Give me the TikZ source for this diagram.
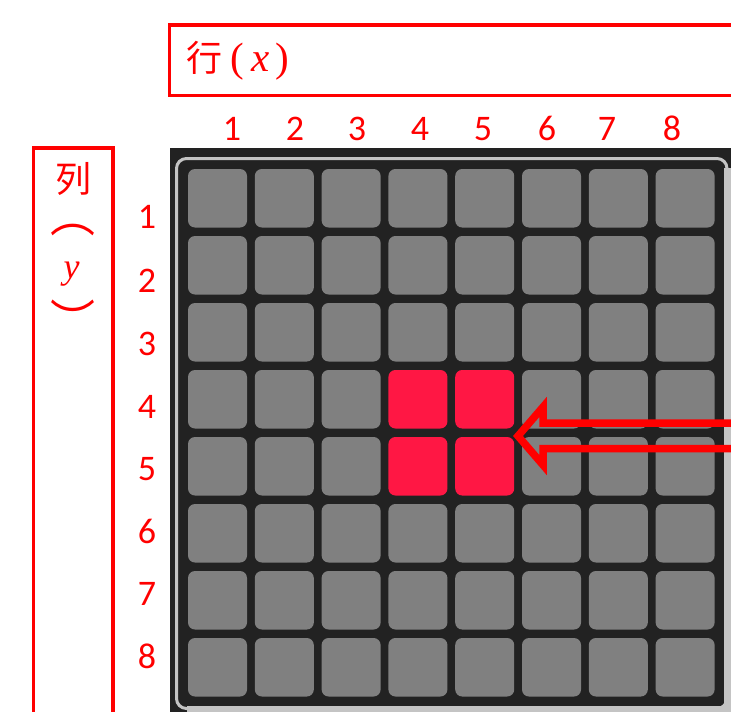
\documentclass[tikz,border=0pt]{standalone}
\usepackage{fontspec}
\setmainfont{Carlito}
\newfontfamily\cjk{Noto Sans CJK SC}
\newfontfamily\tim{Liberation Serif}
\usetikzlibrary{calc}
\definecolor{panel}{HTML}{222222}
\definecolor{cellgray}{HTML}{808080}
\definecolor{cellred}{HTML}{FF1744}
\definecolor{bevel}{HTML}{C4C4C4}
\definecolor{lab}{HTML}{FF0000}
\tikzset{
  cell/.style={rectangle, rounded corners=7pt, minimum width=59pt, minimum height=58.5pt, inner sep=0pt, draw=none},
  numlab/.style={text=lab, font=\fontsize{36}{40}\selectfont, inner sep=0pt, anchor=base},
  cjklab/.style={text=lab, font=\fontsize{36}{40}\selectfont\cjk, inner sep=0pt},
  parlab/.style={text=lab, font=\fontsize{45}{50}\selectfont\cjk, inner sep=0pt},
  framebox/.style={draw=lab, line width=3.5pt},
  bigarrow/.style={draw=lab, line width=7.5pt, miter limit=10}
}
\begin{document}
\begin{tikzpicture}[x=1pt,y=-1pt]
\useasboundingbox (0,0) rectangle (731,712);
\begin{scope}
\clip (0,0) rectangle (731,712);
% panel
\fill[panel] (169.5,147.5) rectangle (740,720);
\draw[bevel, line width=3pt, rounded corners=10pt] (176.5,158.5) rectangle (727,708.5);
\fill[bevel] (724,168) rectangle (740,720);
\fill[bevel] (187,706) rectangle (740,720);
% cells
\foreach \r in {1,...,8}{
  \foreach \c in {1,...,8}{
    \pgfmathsetmacro\cx{188+29.5+(\c-1)*66.8}
    \pgfmathsetmacro\cy{169+29.25+(\r-1)*67}
    \def\fc{cellgray}
    \ifnum\r>3 \ifnum\r<6 \ifnum\c>3 \ifnum\c<6 \def\fc{cellred}\fi\fi\fi\fi
    \node[cell, fill=\fc] (c\r\c) at (\cx,\cy) {};
  }
}
% arrow
\coordinate (tip) at (518,436);
\coordinate (tail) at (745,436);
\draw[bigarrow] ($(tail)+(0,-13)$) -- ($(tip)+(25,-13)$) -- ($(tip)+(25,-29)$) -- (tip)
  -- ($(tip)+(25,29)$) -- ($(tip)+(25,12.5)$) -- ($(tail)+(0,12.5)$);
% frames
\draw[framebox] (169.5,25) rectangle (760,95.5);
\draw[framebox] (33.5,148) rectangle (113,740);
\end{scope}
% top label
\node[cjklab, anchor=west] (xlab) at (186,61) {行\hspace{8pt}{\tim\fontsize{41}{46}\selectfont (\hspace{8pt}\textit{x}\hspace{5pt})}};
% left label
\node[cjklab] (ylab1) at (73,179) {列};
\node[parlab] (ylab2) at (72.5,230) {︵};
\node[text=lab, font=\fontsize{36}{40}\selectfont\tim\itshape, inner sep=0pt] (ylab3) at (71.5,274.5) {y};
\node[parlab] (ylab4) at (72.5,319) {︶};
% column numbers
\foreach \c/\x in {1/232,2/295,3/357,4/420,5/483,6/547,7/607,8/672}{
  \node[numlab] (col\c) at (\x,140) {\c};
}
% row numbers
\foreach \r/\y in {1/228,2/292,3/355,4/418,5/480,6/543,7/605,8/668}{
  \node[numlab] (row\r) at (147,\y) {\r};
}
\end{tikzpicture}
\end{document}
